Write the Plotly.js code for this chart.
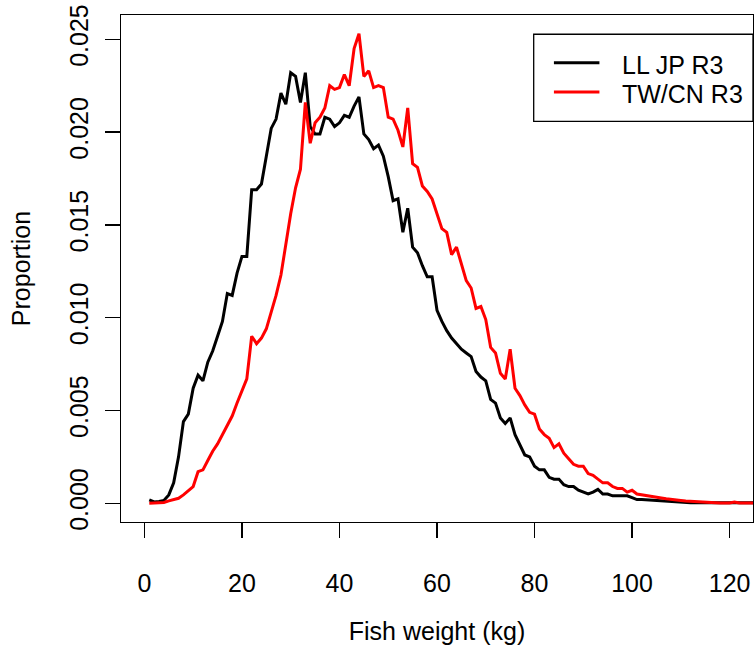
<!DOCTYPE html>
<html>
<head>
<meta charset="utf-8">
<script src="https://cdn.plot.ly/plotly-3.0.1.min.js"></script>
<style>
  html, body { margin: 0; padding: 0; background: #fff; }
  #myDiv { width: 754px; height: 649px; }
</style>
</head>
<body>
<div id="myDiv"></div>
<script>
// fish weight bins (kg), 1..125
var weights = [];
for (var w = 1; w <= 125; w++) weights.push(w);

// proportions
var llJpR3 = [
  0.00018, 0.00007, 0.0001, 0.00015, 0.00045, 0.0011, 0.0025, 0.0044, 0.0048, 0.0062,
  0.0069, 0.0066, 0.0076, 0.0082, 0.0090, 0.0098, 0.0113, 0.0112, 0.0124, 0.0133,
  0.0133, 0.0169, 0.0169, 0.0172, 0.0187, 0.0202, 0.0207, 0.0221, 0.0215, 0.0232,
  0.0230, 0.0216, 0.0232, 0.0203, 0.0199, 0.0199, 0.0208, 0.0207, 0.0203, 0.0205,
  0.0209, 0.0208, 0.0214, 0.0219, 0.0199, 0.0196, 0.0191, 0.0193, 0.0187, 0.0176,
  0.0163, 0.0164, 0.0146, 0.0159, 0.0138, 0.0135, 0.0128, 0.0122, 0.0122, 0.0104,
  0.0098, 0.0093, 0.0089, 0.0086, 0.0083, 0.0081, 0.0079, 0.0071, 0.0068, 0.0066,
  0.0056, 0.0054, 0.0046, 0.0043, 0.0046, 0.0037, 0.0031, 0.0026, 0.0025, 0.0020,
  0.0018, 0.0018, 0.0014, 0.0013, 0.0013, 0.0010, 0.0009, 0.0009, 0.0007, 0.0006,
  0.0005, 0.0006, 0.00075, 0.0005, 0.0005, 0.0004, 0.0004, 0.0004, 0.0004, 0.0003,
  0.0002, 0.0002, 0.00018, 0.00017, 0.00016, 0.00015, 0.00013, 0.0001, 0.00008, 0.00007,
  0.00005, 0.00003, 0.00003, 0.00003, 0.00002, 0.00003, 0.00003, 0.00002, 0.00003, 0.00003,
  0.00002, 0.00003, 0.00002, 0.00003, 0.00003
];

var twCnR3 = [
  0, 0, 0, 0.00004, 0.00013, 0.0002, 0.00027, 0.00045, 0.0007, 0.0009,
  0.0017, 0.0018, 0.0023, 0.0028, 0.0032, 0.0037, 0.0042, 0.0047, 0.0054, 0.0061,
  0.0067, 0.0090, 0.0086, 0.0089, 0.0094, 0.0103, 0.0112, 0.0123, 0.0140, 0.0156,
  0.0170, 0.0180, 0.0216, 0.0194, 0.0205, 0.0208, 0.0213, 0.0225, 0.0223, 0.0224,
  0.0231, 0.0225, 0.0245, 0.0253, 0.0230, 0.0233, 0.0224, 0.0225, 0.0224, 0.0208,
  0.0207, 0.0201, 0.0192, 0.0213, 0.0183, 0.0181, 0.0171, 0.0168, 0.0164, 0.0156,
  0.0148, 0.0146, 0.0134, 0.0138, 0.0129, 0.0120, 0.0116, 0.0105, 0.0106, 0.0099,
  0.0084, 0.0081, 0.0070, 0.0067, 0.0083, 0.0062, 0.0058, 0.0053, 0.0049, 0.0048,
  0.0040, 0.0037, 0.0035, 0.0030, 0.0032, 0.0027, 0.0024, 0.0021, 0.0020, 0.0020,
  0.0016, 0.0015, 0.0013, 0.0011, 0.0011, 0.0009, 0.0008, 0.0008, 0.0006, 0.0007,
  0.0005, 0.00045, 0.0004, 0.00038, 0.00032, 0.00028, 0.00024, 0.0002, 0.00017, 0.00015,
  0.00012, 0.0001, 0.00008, 0.00006, 0.00004, 0.00003, 0.00003, 0.00002, 0.00002, 0.00001,
  0.00006, 0.00001, 0.00001, 0.00001, 0.00001
];

var xTicks = [0, 20, 40, 60, 80, 100, 120];
var yTicks = [0, 0.005, 0.010, 0.015, 0.020, 0.025];
var yTickText = ['0.000', '0.005', '0.010', '0.015', '0.020', '0.025'];

var seriesNames = ['LL JP R3', 'TW/CN R3'];
var seriesColors = ['#000000', '#ff0000'];

var fontFam = 'Liberation Sans, Arial, sans-serif';

var gData = [
  {x: weights, y: llJpR3, type: 'scatter', mode: 'lines', name: seriesNames[0],
   line: {color: seriesColors[0], width: 3}},
  {x: weights, y: twCnR3, type: 'scatter', mode: 'lines', name: seriesNames[1],
   line: {color: seriesColors[1], width: 3}}
];

// legend drawn by hand so the box and spacing look like the R one
var legBox = {x0: 0.653, x1: 1, y0: 0.79, y1: 0.962};
var legRows = [0.906, 0.848];
var shapes = [{type: 'rect', xref: 'paper', yref: 'paper',
  x0: legBox.x0, x1: legBox.x1, y0: legBox.y0, y1: legBox.y1,
  line: {color: '#000', width: 1.3}, fillcolor: '#fff'}];
var annotations = [];
for (var i = 0; i < seriesNames.length; i++) {
  shapes.push({type: 'line', xref: 'paper', yref: 'paper',
    x0: 0.685, x1: 0.757, y0: legRows[i], y1: legRows[i],
    line: {color: seriesColors[i], width: 3}});
  annotations.push({xref: 'paper', yref: 'paper', x: 0.789, y: legRows[i] - 0.004,
    xanchor: 'left', yanchor: 'middle', showarrow: false, text: seriesNames[i],
    font: {family: fontFam, size: 25, color: '#000'}});
}

var layout = {
  width: 754, height: 649,
  margin: {l: 121, r: 1, t: 15, b: 127},
  paper_bgcolor: '#fff', plot_bgcolor: '#fff',
  showlegend: false,
  font: {family: fontFam, size: 25, color: '#000'},
  xaxis: {
    range: [-4.8, 124.8], tickvals: xTicks, ticks: 'outside', ticklen: 15,
    tickwidth: 1.3, tickcolor: '#000', showgrid: false, zeroline: false,
    showline: true, mirror: true, linecolor: '#000', linewidth: 1.3,
    ticklabelstandoff: 24,
    title: {text: 'Fish weight (kg)', standoff: 26, font: {size: 25}}
  },
  yaxis: {
    range: [-0.00101, 0.02631], tickvals: yTicks, ticktext: yTickText,
    ticks: 'outside', ticklen: 15, tickwidth: 1.3, tickcolor: '#000',
    tickangle: -90, showgrid: false, zeroline: false,
    showline: true, mirror: true, linecolor: '#000', linewidth: 1.3,
    ticklabelstandoff: 7,
    title: {text: 'Proportion', standoff: 27, font: {size: 25}}
  },
  shapes: shapes,
  annotations: annotations
};

Plotly.newPlot('myDiv', gData, layout, {displayModeBar: false, staticPlot: true});
</script>
</body>
</html>
